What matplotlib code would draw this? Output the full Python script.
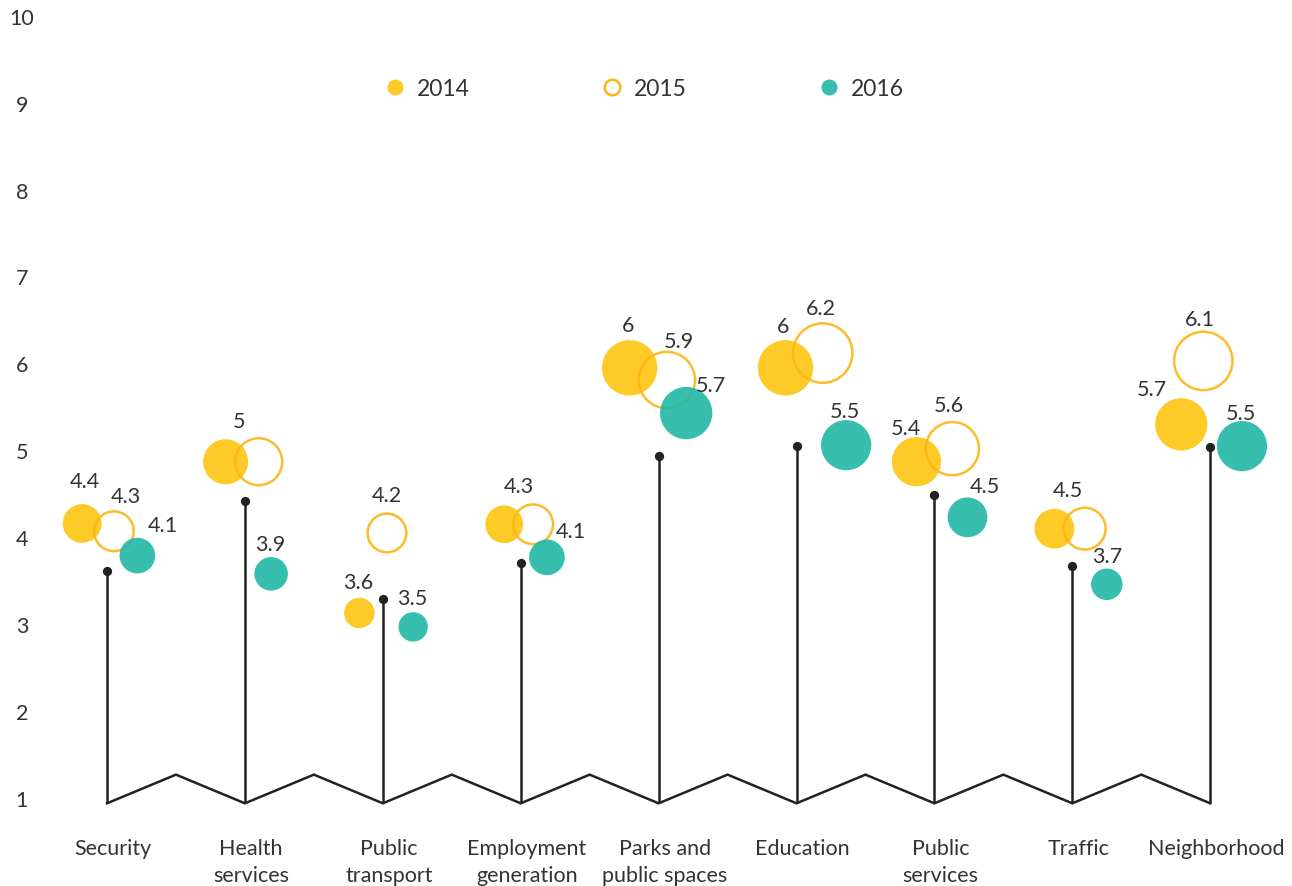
import numpy as np
import matplotlib
matplotlib.use('Agg')
import matplotlib.pyplot as plt
from matplotlib.lines import Line2D

plt.rcParams['font.family'] = ['Lato', 'DejaVu Sans']

# data
categories = ['Security', 'Health\nservices', 'Public\ntransport', 'Employment\ngeneration',
              'Parks and\npublic spaces', 'Education', 'Public\nservices', 'Traffic', 'Neighborhood']
v2014 = [4.4, 5, 3.6, 4.3, 6, 6, 5.4, 4.5, 5.7]
v2015 = [4.3, 5, 4.2, 4.3, 5.9, 6.2, 5.6, 4.5, 6.1]
v2016 = [4.1, 3.9, 3.5, 4.1, 5.7, 5.5, 4.5, 3.7, 5.5]
# heights at which the bubbles / stems sit in the picture
y2014 = [4.17, 4.88, 3.14, 4.16, 5.96, 5.96, 4.88, 4.11, 5.31]
y2015 = [4.08, 4.88, 4.06, 4.16, 5.82, 6.13, 5.03, 4.11, 6.04]
y2016 = [3.80, 3.59, 2.98, 3.78, 5.44, 5.07, 4.24, 3.47, 5.06]
stem_top = [3.62, 4.43, 3.30, 3.72, 4.95, 5.06, 4.50, 3.68, 5.05]

# layout: horizontal dodge of bubbles (category units), label offsets (px, up positive)
dx2014 = [-0.18, -0.14, -0.17, -0.12, -0.21, -0.08, -0.13, -0.13, -0.21]
dx2015 = [0.05, 0.10, 0.03, 0.09, 0.06, 0.19, 0.13, 0.09, -0.05]
dx2016 = [0.22, 0.19, 0.22, 0.19, 0.20, 0.36, 0.24, 0.25, 0.23]
lab2014 = [(3, 41), (13, 40), (-1, 30), (15, 37), (-2, 42), (-2, 41), (-11, 33), (13, 38), (-29, 34)]
lab2015 = [(12, 34), None, (0, 37), None, (12, 38), (-2, 44), (-4, 43), None, (-3, 41)]
lab2016 = [(25, 30), (-1, 29), (-1, 28), (24, 25), (25, 27), (-1, 33), (17, 30), (0, 27), (-1, 32)]

BASE, PEAK = 0.95, 1.28
INK = '#222222'
TXT = '#333333'
YEL = '#FDC50F'
RING = '#FDB515'
TEAL = '#22B7A7'
PX = 0.72  # points per pixel at dpi 100
FS = 15.5


def radius(v):
    return 5.2 * np.asarray(v) - 3.5


fig = plt.figure(figsize=(12.92, 8.86), dpi=100)
ax = fig.add_axes([0, 1 - 820.7 / 886, 1, 820.7 / 886])
ax.set_xlim(-0.776, 8.593)
ax.set_ylim(0.75, 10.192)
for s in ax.spines.values():
    s.set_visible(False)

x = np.arange(len(categories))

# zigzag baseline and stems
zx = np.arange(0, len(categories) - 0.5, 0.5)
zy = np.where(zx % 1 == 0, BASE, PEAK)
ax.plot(zx, zy, color=INK, lw=1.8, solid_joinstyle='miter', zorder=1)
ax.vlines(x, BASE, stem_top, color=INK, lw=1.8, zorder=1)
ax.scatter(x, stem_top, s=32, color=INK, zorder=2)

# bubbles
ax.scatter(x + dx2014, y2014, s=(2 * radius(v2014) * PX) ** 2, color=YEL, alpha=0.9,
           linewidths=0, zorder=3)
ax.scatter(x + dx2015, y2015, s=(2 * (radius(v2015) + 1) * PX) ** 2, facecolors='none',
           edgecolors=RING, alpha=0.9, linewidths=1.8, zorder=4)
ax.scatter(x + dx2016, y2016, s=(2 * radius(v2016) * PX) ** 2, color=TEAL, alpha=0.9,
           linewidths=0, zorder=5)

for vals, ys, dxs, labs in [(v2014, y2014, dx2014, lab2014),
                            (v2015, y2015, dx2015, lab2015),
                            (v2016, y2016, dx2016, lab2016)]:
    for i in range(len(vals)):
        if labs[i] is None:
            continue
        ax.annotate(f'{vals[i]:g}', (x[i] + dxs[i], ys[i]),
                    xytext=(labs[i][0] * PX, labs[i][1] * PX), textcoords='offset points',
                    ha='center', va='center', fontsize=FS, color=TXT, zorder=6)

# axes labels
ax.set_yticks(range(1, 11))
ax.tick_params(axis='y', length=0, pad=-15.8, labelsize=FS, labelcolor=TXT)
for lbl in ax.get_yticklabels():
    lbl.set_ha('center')
ax.set_xticks(x + 0.045, categories)
ax.tick_params(axis='x', length=0, pad=13.5, labelsize=FS, labelcolor=TXT)
for lbl in ax.get_xticklabels():
    lbl.set_linespacing(1.42)

# legend
handles = [Line2D([], [], marker='o', ls='none', markersize=11.5, markerfacecolor=YEL,
                  markeredgewidth=0, alpha=0.9, label='2014'),
           Line2D([], [], marker='o', ls='none', markersize=11.2, markerfacecolor='none',
                  markeredgecolor=RING, markeredgewidth=1.8, label='2015'),
           Line2D([], [], marker='o', ls='none', markersize=11.5, markerfacecolor=TEAL,
                  markeredgewidth=0, alpha=0.9, label='2016')]
leg = fig.legend(handles=handles, loc='center left', ncol=3, frameon=False,
                 bbox_to_anchor=(384 / 1292, 1 - 89 / 886), bbox_transform=fig.transFigure,
                 borderpad=0, borderaxespad=0, handlelength=1, handletextpad=0.45,
                 columnspacing=5.7, fontsize=16.5)
for t in leg.get_texts():
    t.set_color(TXT)

fig.savefig('out.png', dpi=100)
